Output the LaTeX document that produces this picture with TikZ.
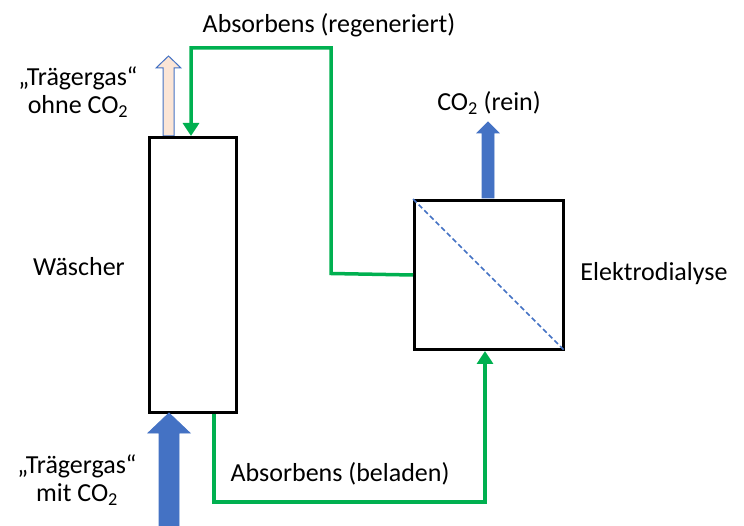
\documentclass[tikz,border=0pt]{standalone}
\usepackage{fontspec}
\setmainfont{Carlito}
\usetikzlibrary{arrows.meta,calc}
\definecolor{grn}{HTML}{00B050}
\definecolor{blu}{HTML}{4472C4}
\definecolor{peach}{HTML}{FBE5D6}
\begin{document}
\begin{tikzpicture}[x=1pt,y=-1pt,
  txt/.style={font=\fontsize{26}{28}\selectfont, inner sep=0pt, align=center},
  box/.style={draw=black, line width=3pt, fill=white, inner sep=0pt, anchor=north west},
  flow/.style={draw=grn, line width=3.5pt, -{Triangle[width=16pt,length=13pt]}},
  blockarrow/.style={fill=blu, draw=blu, line width=0.8pt, line join=miter}]
\useasboundingbox (0,0) rectangle (744,526);
% exhaust arrow (beige)
\filldraw[fill=peach, draw=blu, line width=1pt] (163,136) -- (163,68) -- (156,68) -- (168.5,56) -- (181,68) -- (174,68) -- (174,136) -- cycle;
% boxes
\node[box, minimum width=87pt, minimum height=275pt] (w) at (148,136) {};
\node[box, minimum width=149pt, minimum height=149pt] (e) at (413,199) {};
\draw[blu, line width=1.6pt, dash pattern=on 5pt off 3pt] (e.north west) -- (e.south east);
% feed arrow
\filldraw[blockarrow] (159,526) -- (159,433) -- (148,433) -- (169,413) -- (190,433) -- (179,433) -- (179,526) -- cycle;
% CO2 product arrow
\filldraw[blockarrow] (482,198) -- (482,133) -- (477,133) -- (488,122) -- (499,133) -- (494,133) -- (494,198) -- cycle;
% green flows
\draw[flow] (e.west) -- (331,273.5) |- (191,48) -- ($(w.north west)+(43,0)$);
\draw[flow] ($(w.south west)+(66,0)$) |- (485,502) -- ($(e.south west)+(72,0)$);
% texts
\node[txt] (t1) at (329,25) {Absorbens (regeneriert)};
\node[txt] (t2) at (78,92) {„Trägergas“\\ohne CO\textsubscript{2}};
\node[txt] (t3) at (489,103) {CO\textsubscript{2} (rein)};
\node[txt] (t4) at (79,267) {Wäscher};
\node[txt] (t5) at (654,274) {Elektrodialyse};
\node[txt] (t6) at (77,480) {„Trägergas“\\mit CO\textsubscript{2}};
\node[txt] (t7) at (340,474) {Absorbens (beladen)};
\end{tikzpicture}
\end{document}
